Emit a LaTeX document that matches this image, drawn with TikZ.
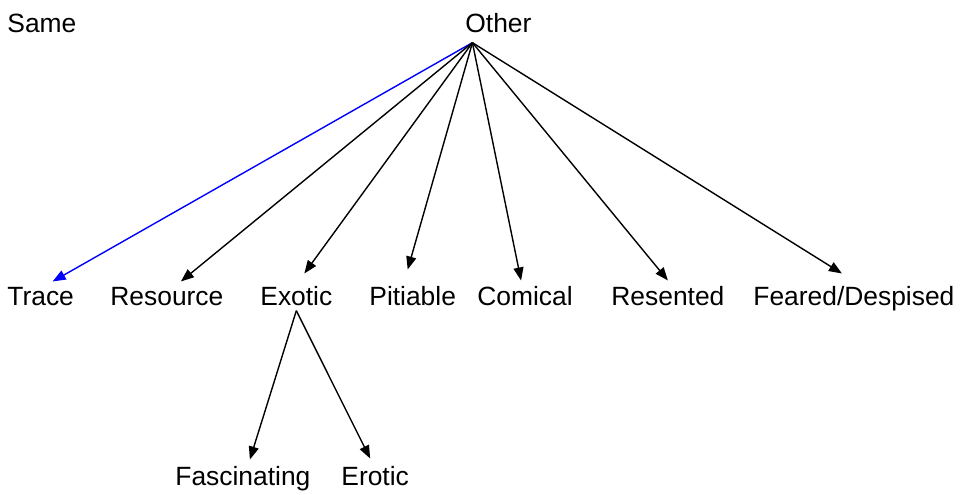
\documentclass[tikz,border=0pt]{standalone}
\usepackage{fontspec}
\setmainfont{Liberation Sans}
\usetikzlibrary{arrows.meta,calc}

\tikzset{
  lbl/.style = {anchor = base west, inner sep = 0pt, font = \fontsize{13.2}{15}\selectfont},
  arr/.style = {line width = 0.7pt, -{Triangle[length = 6.5pt, width = 5pt]}}
}

\begin{document}
\begin{tikzpicture}[x = 0.5pt, y = -0.5pt]
\useasboundingbox (0,0) rectangle (960,494);

\node[lbl] (same) at (7,32) {Same};
\node[lbl] (other) at (465,32) {Other};

\node[lbl] (trace) at (7,305) {Trace};
\node[lbl] (resource) at (110,305) {Resource};
\node[lbl] (exotic) at (260,305) {Exotic};
\node[lbl] (pitiable) at (369,305) {Pitiable};
\node[lbl] (comical) at (477,305) {Comical};
\node[lbl] (resented) at (611,305) {Resented};
\node[lbl] (feared) at (753,305) {Feared/Despised};

\node[lbl] (fascinating) at (175,485) {Fascinating};
\node[lbl] (erotic) at (341,485) {Erotic};

\coordinate (hub) at ($(other.south)+(-26,10)$);
\coordinate (fork) at ($(exotic.south)+(0,5)$);

\draw[arr, blue] (hub) -- ($(trace.north)+(12,-5)$);
\foreach \t/\dx/\dy in {resource/14/-5, exotic/8/-12, pitiable/-5/-16, comical/-4/-5, resented/0/-5, feared/-12/-12}
\draw[arr] (hub) -- ($(\t.north)+(\dx,\dy)$);

\draw[arr] (fork) -- ($(fascinating.north)+(7,-6)$);
\draw[arr] (fork) -- ($(erotic.north)+(-5,-7)$);
\end{tikzpicture}
\end{document}
